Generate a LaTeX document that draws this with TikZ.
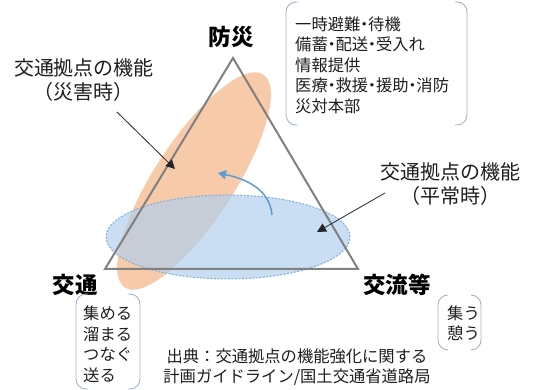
\documentclass[tikz,border=0pt]{standalone}
\usepackage{fontspec}
\setmainfont{Noto Sans CJK JP}
\usetikzlibrary{arrows.meta}
\definecolor{trigray}{RGB}{128,128,128}
\definecolor{orfill}{RGB}{246,196,160}
\definecolor{blfill}{RGB}{178,208,236}
\definecolor{bldraw}{RGB}{130,172,218}
\definecolor{blarrow}{RGB}{91,155,213}
\definecolor{brkcol}{RGB}{160,178,204}
\definecolor{txt}{RGB}{30,30,30}
\newcommand\nkdot{\makebox[0.48em][c]{・}}
\tikzset{
  body/.style={font=\fontsize{16.3}{20.5}\selectfont, text=txt, inner sep=0pt, align=left},
  lbl/.style={font=\fontsize{20}{24}\selectfont, text=txt, inner sep=0pt},
  ttl/.style={font=\bfseries\fontsize{22.5}{26}\selectfont, text=black, inner sep=0pt},
  brk/.style={draw=brkcol, line width=0.9pt, rounded corners=10pt},
  ptr/.style={draw=black!85, line width=0.8pt, -{Triangle[length=9pt,width=9pt]}},
}
\begin{document}
\begin{tikzpicture}[x=1pt,y=1pt]
\useasboundingbox (0,0) rectangle (539,390);
% ellipses
\fill[orfill, opacity=0.9] (194,209) ellipse[x radius=127, y radius=40, rotate=57];
\draw[bldraw, dash pattern=on 2pt off 1.5pt, line width=1pt, fill=blfill, fill opacity=0.7] (228,153) ellipse[x radius=122, y radius=42];
% triangle
\coordinate (apex) at (233,332);
\coordinate (bl) at (105,121);
\coordinate (br) at (358,121);
\draw[trigray, line width=2pt, line join=miter] (apex) -- (bl) -- (br) -- cycle;
% disaster-time label and pointer
\node[lbl] (dis1) at (84,322) {交通拠点の機能};
\node[lbl] (dis2) at (84,298) {（災害時）};
\coordinate (disS) at (117,278);
\coordinate (disT) at (175,221);
\draw[ptr] (disS) -- (disT);
% blue curved arrow
\coordinate (cs) at (272,175);
\coordinate (ce) at (218,217);
\draw[blarrow, line width=1.5pt, -{Triangle[length=8pt,width=9pt]}] (cs) to[out=95,in=-12] (ce);
% normal-time label and pointer
\node[lbl] (nor1) at (450,218) {交通拠点の機能};
\node[lbl] (nor2) at (450,194) {（平常時）};
\coordinate (norS) at (385,197);
\coordinate (norT) at (317,158);
\draw[ptr] (norS) -- (norT);
% titles
\node[ttl] (bousai) at (231,353) {防災};
\node[ttl] (koutsu) at (75,105) {交通};
\node[ttl] (kouryu) at (397,105) {交流等};
% bracket boxes
\draw[brk] (298,388) -- (286,388) -- (286,265) -- (298,265);
\draw[brk] (455,388) -- (467,388) -- (467,265) -- (455,265);
\node[body, anchor=west] (bousaiT) at (295,325) {一時避難\nkdot 待機\\備蓄\nkdot 配送\nkdot 受入れ\\情報提供\\医療\nkdot 救援\nkdot 援助\nkdot 消防\\災対本部};
\draw[brk] (88,96) -- (76,96) -- (76,1) -- (88,1);
\draw[brk] (128,96) -- (140,96) -- (140,1) -- (128,1);
\node[body, anchor=west] (koutsuT) at (83,46) {集める\\溜まる\\つなぐ\\送る};
\draw[brk] (448,95) -- (438,95) -- (438,40) -- (448,40);
\draw[brk] (471,95) -- (481,95) -- (481,40) -- (471,40);
\node[body, anchor=west] (kouryuT) at (447,67) {集う\\憩う};
% citation
\node[body, align=center] (cite) at (297,23) {出典：交通拠点の機能強化に関する\\計画ガイドライン/国土交通省道路局};
\end{tikzpicture}
\end{document}
